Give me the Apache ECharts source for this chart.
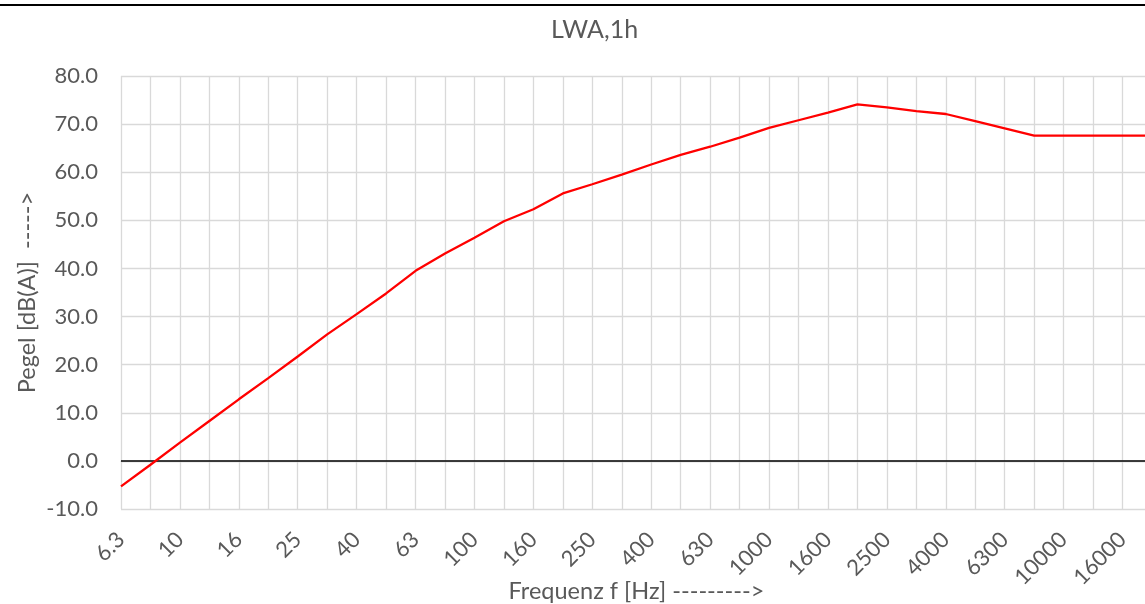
<!DOCTYPE html>
<html>
<head>
<meta charset="utf-8">
<script src="https://cdn.jsdelivr.net/npm/echarts@6/dist/echarts.min.js"></script>
<style>
html,body{margin:0;padding:0;background:#fff;}
#chart{width:1145px;height:604px;}
</style>
</head>
<body>
<div id="chart"></div>
<script>
const categories = ['6.3','8','10','12.5','16','20','25','31.5','40','50','63','80','100','125','160','200','250','315','400','500','630','800','1000','1250','1600','2000','2500','3150','4000','5000','6300','8000','10000','12500','16000','20000'];
const lwaValues = [-5.3, -0.8, 3.8, 8.3, 12.8, 17.2, 21.7, 26.3, 30.5, 34.8, 39.5, 43.1, 46.4, 49.8, 52.3, 55.6, 57.5, 59.5, 61.6, 63.6, 65.3, 67.2, 69.2, 70.8, 72.4, 74.1, 73.5, 72.7, 72.1, 70.6, 69.1, 67.6, 67.6, 67.6, 67.6, 67.6];
const titleText = 'LWA,1h';
const yName = 'Pegel [dB(A)]  ----->';
const xName = 'Frequenz f [Hz] --------->';

const FONT = 'Lato, "Open Sans", sans-serif';
const TXT = '#595959';
const GRID = '#d9d9d9';

const chart = echarts.init(document.getElementById('chart'), null, {renderer:'canvas'});
chart.setOption({
  animation: false,
  backgroundColor: '#fff',
  title: {
    text: titleText,
    left: 546, top: 12,
    textStyle: {color: TXT, fontSize: 25, fontWeight: 'normal', fontFamily: FONT}
  },
  graphic: [{
    type: 'line', shape: {x1: 0, y1: 5, x2: 1145, y2: 5},
    style: {stroke: '#000', lineWidth: 2.2}
  }],
  grid: {left: 121, top: 76, right: -7, bottom: 95, containLabel: false, outerBoundsMode: 'none'},
  xAxis: {
    type: 'category',
    data: categories,
    boundaryGap: false,
    name: xName,
    nameLocation: 'middle',
    nameGap: 70,
    nameMoveOverlap: false,
    nameTextStyle: {color: TXT, fontSize: 23.5, fontFamily: FONT},
    axisLine: {show: true, lineStyle: {color: GRID, width: 1.3}},
    axisTick: {show: false},
    axisLabel: {interval: 1, rotate: 45, margin: 27, color: TXT, fontSize: 22, fontFamily: FONT},
    splitLine: {show: true, interval: 0, lineStyle: {color: GRID, width: 1.3}}
  },
  yAxis: {
    type: 'value',
    min: -10, max: 80, interval: 10,
    name: yName,
    nameLocation: 'middle',
    nameGap: 82,
    nameMoveOverlap: false,
    nameTextStyle: {color: TXT, fontSize: 23.5, fontFamily: FONT},
    axisLine: {show: false},
    axisTick: {show: false},
    axisLabel: {margin: 23, color: TXT, fontSize: 22, fontFamily: FONT,
      formatter: v => v.toFixed(1)},
    splitLine: {show: true, lineStyle: {color: GRID, width: 1.3}}
  },
  series: [{
    type: 'line',
    data: lwaValues,
    symbol: 'none',
    lineStyle: {color: '#ff0000', width: 2.3},
    z: 5,
    markLine: {
      silent: true,
      symbol: ['none', 'none'],
      label: {show: false},
      lineStyle: {color: '#000', width: 1.6, type: 'solid'},
      data: [{yAxis: 0}],
      z: 4
    }
  }]
});
</script>
</body>
</html>
